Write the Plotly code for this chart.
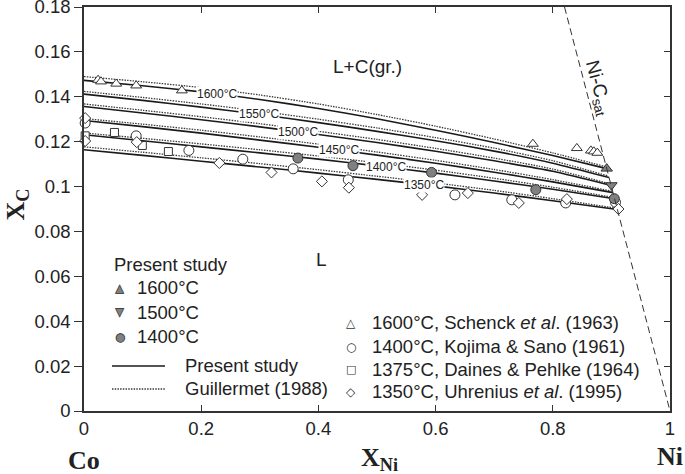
import numpy as np
import plotly.graph_objects as go

# ---------------- data ----------------
TEMP_LABELS = ["1600°C", "1550°C", "1500°C", "1450°C", "1400°C", "1350°C"]
X_GRID = [0.0, 0.1, 0.2, 0.3, 0.4, 0.5, 0.6, 0.7, 0.8]

# Present study (solid) liquidus curves, values on X_GRID + end point on Ni-C sat line
PS_1600_X = X_GRID + [0.892]
PS_1600_Y = [0.1473, 0.1449, 0.1422, 0.1388, 0.1348, 0.1302, 0.1251, 0.1196, 0.1138, 0.1080]
PS_1550_X = X_GRID + [0.896]
PS_1550_Y = [0.1412, 0.1384, 0.1354, 0.1321, 0.1285, 0.1246, 0.1204, 0.1158, 0.1104, 0.1040]
PS_1500_X = X_GRID + [0.8995]
PS_1500_Y = [0.1357, 0.1328, 0.1298, 0.1266, 0.1232, 0.1196, 0.1157, 0.1115, 0.1068, 0.1005]
PS_1450_X = X_GRID + [0.9027]
PS_1450_Y = [0.1294, 0.1267, 0.1238, 0.1207, 0.1175, 0.1140, 0.1104, 0.1064, 0.1021, 0.0973]
PS_1400_X = X_GRID + [0.9054]
PS_1400_Y = [0.1231, 0.1204, 0.1177, 0.1150, 0.1122, 0.1092, 0.1060, 0.1025, 0.0988, 0.0946]
PS_1350_X = X_GRID + [0.9102]
PS_1350_Y = [0.1164, 0.1139, 0.1113, 0.1087, 0.1060, 0.1032, 0.1003, 0.0971, 0.0937, 0.0898]

# Guillermet (1988) (dotted) curves
G_1600_X = X_GRID + [0.891]
G_1600_Y = [0.1490, 0.1467, 0.1441, 0.1408, 0.1368, 0.1321, 0.1269, 0.1212, 0.1150, 0.1088]
G_1550_X = X_GRID + [0.895]
G_1550_Y = [0.1424, 0.1397, 0.1368, 0.1336, 0.1300, 0.1261, 0.1218, 0.1171, 0.1115, 0.1047]
G_1500_X = X_GRID + [0.899]
G_1500_Y = [0.1368, 0.1340, 0.1311, 0.1280, 0.1246, 0.1210, 0.1170, 0.1127, 0.1078, 0.1011]
G_1450_X = X_GRID + [0.902]
G_1450_Y = [0.1303, 0.1278, 0.1251, 0.1221, 0.1189, 0.1154, 0.1117, 0.1076, 0.1031, 0.0979]
G_1400_X = X_GRID + [0.905]
G_1400_Y = [0.1239, 0.1215, 0.1190, 0.1164, 0.1136, 0.1106, 0.1073, 0.1037, 0.0997, 0.0951]
G_1350_X = X_GRID + [0.910]
G_1350_Y = [0.1177, 0.1153, 0.1128, 0.1102, 0.1075, 0.1046, 0.1016, 0.0983, 0.0946, 0.0903]

# Ni-C saturation boundary
NI_C_SAT_X = [0.82, 1.0]
NI_C_SAT_Y = [0.18, 0.0]

# Present study experimental points
EXP_1600_X = [0.892]
EXP_1600_Y = [0.1080]
EXP_1500_X = [0.900]
EXP_1500_Y = [0.1006]
EXP_1400_X = [0.365, 0.459, 0.593, 0.771, 0.905]
EXP_1400_Y = [0.1127, 0.1093, 0.1063, 0.0986, 0.0946]

# Literature points
SCHENCK_X = [0.024, 0.029, 0.055, 0.089, 0.167, 0.766, 0.841, 0.865, 0.870, 0.876]
SCHENCK_Y = [0.1475, 0.1468, 0.1458, 0.1450, 0.1428, 0.1190, 0.1171, 0.1160, 0.1156, 0.1150]
KOJIMA_X = [0.002, 0.089, 0.179, 0.271, 0.357, 0.451, 0.633, 0.730, 0.822, 0.907]
KOJIMA_Y = [0.1283, 0.1226, 0.1161, 0.1122, 0.1079, 0.1030, 0.0963, 0.0941, 0.0927, 0.0930]
DAINES_X = [0.002, 0.052, 0.0995, 0.144]
DAINES_Y = [0.1226, 0.1241, 0.1183, 0.1156]
UHRENIUS_X = [0.002, 0.002, 0.090, 0.231, 0.320, 0.406, 0.452, 0.577, 0.655, 0.742, 0.824, 0.912]
UHRENIUS_Y = [0.1305, 0.1203, 0.1198, 0.1105, 0.1063, 0.1023, 0.0995, 0.0963, 0.0971, 0.0927, 0.0944, 0.0900]

X_TICKS = [0, 0.2, 0.4, 0.6, 0.8, 1.0]
X_TICK_TEXT = ["0", "0.2", "0.4", "0.6", "0.8", "1"]
Y_TICKS = [0, 0.02, 0.04, 0.06, 0.08, 0.10, 0.12, 0.14, 0.16, 0.18]
Y_TICK_TEXT = ["0", "0.02", "0.04", "0.06", "0.08", "0.1", "0.12", "0.14", "0.16", "0.18"]

PRESENT_LEGEND = ["1600°C", "1500°C", "1400°C"]
LIT_LEGEND = ["1600°C, Schenck <i>et al</i>. (1963)", "1400°C, Kojima & Sano (1961)",
              "1375°C, Daines & Pehlke (1964)", "1350°C, Uhrenius <i>et al</i>. (1995)"]
LINE_LEGEND = ["Present study", "Guillermet (1988)"]

# ---------------- styling ----------------
SANS = "Liberation Sans, Arial, sans-serif"
SERIF = "Liberation Serif, Times New Roman, serif"
GLYPH = "DejaVu Sans, sans-serif"
INK = "#222222"
EDGE = "#333333"
GRAY_FILL = "#808080"
LABEL_AT_X = [0.227, 0.299, 0.366, 0.435, 0.515, 0.580]
SOLID_LINE = dict(color="#1a1a1a", width=1.6)
DOT_LINE = dict(color="#3a3a3a", width=1.3, dash="1.5px,1.2px")
LEG_FONT = 18.5

PS_X = [PS_1600_X, PS_1550_X, PS_1500_X, PS_1450_X, PS_1400_X, PS_1350_X]
PS_Y = [PS_1600_Y, PS_1550_Y, PS_1500_Y, PS_1450_Y, PS_1400_Y, PS_1350_Y]
G_X = [G_1600_X, G_1550_X, G_1500_X, G_1450_X, G_1400_X, G_1350_X]
G_Y = [G_1600_Y, G_1550_Y, G_1500_Y, G_1450_Y, G_1400_Y, G_1350_Y]

fig = go.Figure()

for xs, ys in zip(G_X, G_Y):
    fig.add_trace(go.Scatter(
        x=xs, y=ys, mode="lines", line=dict(**DOT_LINE, shape="spline", smoothing=0.6),
        name="Guillermet (1988)", showlegend=False, hoverinfo="skip"))

for xs, ys in zip(PS_X, PS_Y):
    fig.add_trace(go.Scatter(
        x=xs, y=ys, mode="lines", line=dict(**SOLID_LINE, shape="spline", smoothing=0.6),
        name="Present study", showlegend=False, hoverinfo="skip"))

# Ni-C saturation line (on mirrored right axis so its inside ticks get drawn)
fig.add_trace(go.Scatter(
    x=NI_C_SAT_X, y=NI_C_SAT_Y, mode="lines", yaxis="y2",
    line=dict(color=EDGE, width=1, dash="7px,4px"),
    showlegend=False, hoverinfo="skip"))

open_marker = dict(color="white", line=dict(color=EDGE, width=1))
fig.add_trace(go.Scatter(x=SCHENCK_X, y=SCHENCK_Y, mode="markers", cliponaxis=False,
    marker=dict(symbol="triangle-up", size=9.5, **open_marker), name="Schenck", showlegend=False))
fig.add_trace(go.Scatter(x=KOJIMA_X, y=KOJIMA_Y, mode="markers", cliponaxis=False,
    marker=dict(symbol="circle", size=10, **open_marker), name="Kojima", showlegend=False))
fig.add_trace(go.Scatter(x=DAINES_X, y=DAINES_Y, mode="markers", cliponaxis=False,
    marker=dict(symbol="square", size=8, **open_marker), name="Daines", showlegend=False))
fig.add_trace(go.Scatter(x=UHRENIUS_X, y=UHRENIUS_Y, mode="markers", cliponaxis=False,
    marker=dict(symbol="diamond", size=8.5, **open_marker), name="Uhrenius", showlegend=False))

gray_marker = dict(color=GRAY_FILL, line=dict(color=EDGE, width=1))
fig.add_trace(go.Scatter(x=EXP_1600_X, y=EXP_1600_Y, mode="markers", cliponaxis=False,
    marker=dict(symbol="triangle-up", size=10, **gray_marker), name="1600", showlegend=False))
fig.add_trace(go.Scatter(x=EXP_1500_X, y=EXP_1500_Y, mode="markers", cliponaxis=False,
    marker=dict(symbol="triangle-down", size=10, **gray_marker), name="1500", showlegend=False))
fig.add_trace(go.Scatter(x=EXP_1400_X, y=EXP_1400_Y, mode="markers", cliponaxis=False,
    marker=dict(symbol="circle", size=10, **gray_marker), name="1400", showlegend=False))

annotations = []
shapes = []

# inline contour labels, placed on the present-study curves
for lab, lx, xs, ys in zip(TEMP_LABELS, LABEL_AT_X, PS_X, PS_Y):
    annotations.append(dict(
        x=lx, y=float(np.interp(lx, xs, ys)), xref="x", yref="y", text=lab,
        xanchor="center", yanchor="middle",
        showarrow=False, font=dict(family=SANS, size=12, color=INK),
        bgcolor="white", borderpad=0))

def txt(x, y, text, size, family=SANS, xanchor="center", angle=0, color=INK, xref="paper", yref="paper"):
    return dict(x=x, y=y, xref=xref, yref=yref, text=text, showarrow=False,
                xanchor=xanchor, yanchor="middle", textangle=angle,
                font=dict(family=family, size=size, color=color))

annotations += [
    txt(0.483, 0.1537, "L+C(gr.)", 19, xref="x", yref="y"),
    txt(0.406, 0.0674, "L", 19, xref="x", yref="y"),
    txt(0.877, 0.144, "Ni-C<sub>sat</sub>", 19, angle=75, xref="x", yref="y"),
    txt(-0.115, 0.51, "<b>X<sub>C</sub></b>", 26, family=SERIF, angle=-90),
    txt(0.505, -0.118, "<b>X<sub>Ni</sub></b>", 26, family=SERIF),
    txt(0.0, -0.122, "<b>Co</b>", 26, family=SERIF),
    txt(1.0, -0.113, "<b>Ni</b>", 26, family=SERIF),
]

# ---- left legend ("Present study" block) ----
annotations.append(txt(0.0478, 0.3614, "Present study", LEG_FONT, xanchor="left"))
PRES_ROWS = [0.3045, 0.245, 0.1832]
PRES_FILLED = ["▲", "▼", "●"]
PRES_OPEN = ["△", "▽", "○"]
for yy, fg, og, lab in zip(PRES_ROWS, PRES_FILLED, PRES_OPEN, PRESENT_LEGEND):
    annotations.append(txt(0.0614, yy, fg, 12, family=GLYPH, color=GRAY_FILL))
    annotations.append(txt(0.0614, yy, og, 12, family=GLYPH, color=EDGE))
    annotations.append(txt(0.087, yy, lab, LEG_FONT, xanchor="left"))

LINE_ROWS = [0.1114, 0.0545]
for yy, lab, style in zip(LINE_ROWS, LINE_LEGEND, [SOLID_LINE, DOT_LINE]):
    shapes.append(dict(type="line", xref="paper", yref="paper", x0=0.0478, x1=0.1382,
                       y0=yy, y1=yy, line=style))
    annotations.append(txt(0.169, yy, lab, LEG_FONT, xanchor="left"))

# ---- right legend (literature) ----
LIT_ROWS = [0.2186, 0.1592, 0.1032, 0.0478]
LIT_GLYPHS = ["△", "○", "□", "◇"]
LIT_SIZES = [12, 12, 11, 12]
for yy, g, gs, lab in zip(LIT_ROWS, LIT_GLYPHS, LIT_SIZES, LIT_LEGEND):
    annotations.append(txt(0.4556, yy, g, gs, family=GLYPH, color=EDGE))
    annotations.append(txt(0.488, yy, lab, LEG_FONT, xanchor="left"))

axis_common = dict(showgrid=False, zeroline=False, showline=True, linecolor=EDGE,
                   linewidth=1.5, tickcolor=EDGE, tickwidth=1.2, automargin=False,
                   tickfont=dict(family=SANS, size=18.5, color=INK))

fig.update_layout(
    width=685, height=474,
    margin=dict(l=84, r=15, t=7, b=63, autoexpand=False),
    paper_bgcolor="white", plot_bgcolor="white",
    showlegend=False,
    xaxis=dict(range=[0, 1], tickvals=X_TICKS, ticktext=X_TICK_TEXT,
               ticks="inside", ticklen=6, mirror="ticks", ticklabeloverflow="allow", **axis_common),
    yaxis=dict(range=[0, 0.18], tickvals=Y_TICKS, ticktext=Y_TICK_TEXT,
               ticks="outside", ticklen=8, mirror=True, ticklabeloverflow="allow", **axis_common),
    yaxis2=dict(range=[0, 0.18], tickvals=Y_TICKS, overlaying="y", side="right", anchor="x",
                ticks="inside", ticklen=6, tickcolor=EDGE, tickwidth=1.2, automargin=False,
                showticklabels=False, showgrid=False, zeroline=False, showline=False),
    annotations=annotations,
    shapes=shapes,
)

fig.write_html("out.html", config={"displayModeBar": False},
               post_script="document.body.style.margin='0';document.body.style.padding='0';")
